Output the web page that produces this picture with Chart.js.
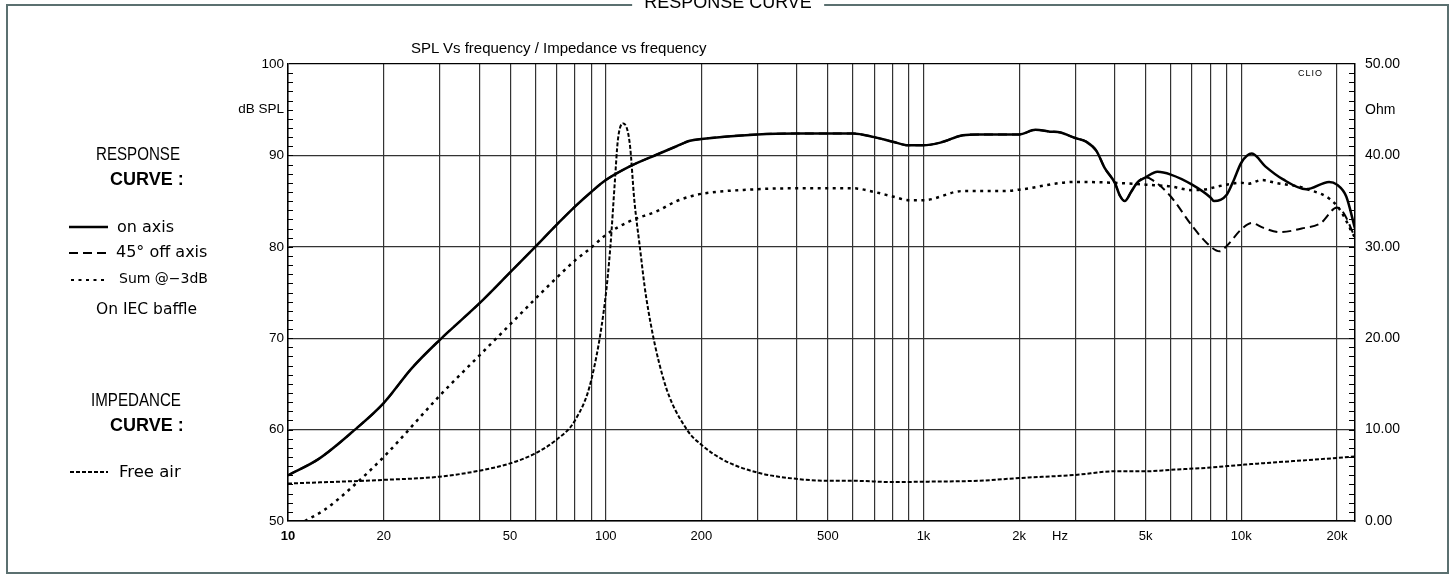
<!DOCTYPE html>
<html lang="en">
<head>
<meta charset="UTF-8">
<title>Response curve</title>
<script src="https://cdn.jsdelivr.net/npm/chart.js"></script>
<style>
    body {
        margin: 0;
        width: 1455px;
        height: 581px;
        position: relative;
        overflow: hidden;
        background: #fff;
        color: #000;
        font-family: "Liberation Sans", Arial, sans-serif;
    }
    #chart { position: absolute; left: 0; top: 0; }
    #frame {
        position: absolute;
        left: 6px; top: 4px;
        width: 1443px; height: 570px;
        box-sizing: border-box;
        border: 2px solid #5b7070;
    }
    .txt {
        position: absolute;
        white-space: nowrap;
        line-height: 1;
        transform: translateY(-50%);
    }
    .head { font-size: 18px; transform: translateY(-50%) scaleX(0.84); transform-origin: left center; }
    .bold { font-size: 18px; font-weight: bold; }
    .wide { font-family: "DejaVu Sans", sans-serif; font-size: 16px; }
    #frameTitle {
        position: absolute;
        left: 728px; top: -7px;
        transform: translateX(-50%);
        font-size: 18px;
        line-height: 18px;
        background: #fff;
        padding: 0 12px;
    }
    svg { position: absolute; left: 0; top: 0; }
</style>
</head>
<body>

<canvas id="chart" width="1455" height="581"></canvas>
<div id="frame"></div>
<div id="frameTitle">RESPONSE CURVE</div>

<div class="txt" style="left:411px; top:47px; font-size:15px;">SPL Vs frequency / Impedance vs frequency</div>
<div class="txt" style="left:1298px; top:73px; font-size:9px; letter-spacing:1px;">CLIO</div>

<div class="txt head" style="left:96px; top:154px;">RESPONSE</div>
<div class="txt bold" style="left:110px; top:179px;">CURVE :</div>
<div class="txt wide" style="left:117px; top:227px;">on axis</div>
<div class="txt wide" style="left:116px; top:252px;">45° off axis</div>
<div class="txt wide" style="left:119px; top:278px; font-size:14px;">Sum @−3dB</div>
<div class="txt wide" style="left:96px; top:310px; font-size:15.5px;">On IEC baffle</div>
<div class="txt head" style="left:91px; top:400px;">IMPEDANCE</div>
<div class="txt bold" style="left:110px; top:425px;">CURVE :</div>
<div class="txt wide" style="left:119px; top:472px; font-size:16.5px;">Free air</div>

<svg width="120" height="581">
    <line x1="69" y1="227" x2="108" y2="227" stroke="#000" stroke-width="2.5"/>
    <line x1="69" y1="253" x2="108" y2="253" stroke="#000" stroke-width="2" stroke-dasharray="9,5"/>
    <line x1="71" y1="280" x2="106" y2="280" stroke="#000" stroke-width="2" stroke-dasharray="3,4.5"/>
    <line x1="70" y1="472" x2="108" y2="472" stroke="#000" stroke-width="2" stroke-dasharray="4,2"/>
</svg>

<script>
    // SPL curves (dB), frequencies in Hz
    const onAxisFreq = [10, 12.5, 16, 20, 24.5, 30, 40, 50, 60, 70, 80, 90, 100, 119, 145, 167, 184, 200, 300, 400, 600, 700, 800, 900, 1000, 1130, 1330, 1500, 2000, 2250, 2500, 2700, 3000, 3250, 3500, 3720, 4000, 4150, 4300, 4500, 4700, 5000, 5450, 6000, 7000, 8000, 8200, 9000, 9500, 10000, 10800, 11900, 13500, 16000, 18900, 20000, 21400, 22800];
    const onAxisDb = [55.0, 56.8, 59.8, 62.9, 66.7, 69.8, 73.8, 77.2, 80.0, 82.4, 84.4, 86.0, 87.3, 88.8, 90.1, 91.0, 91.6, 91.8, 92.3, 92.4, 92.4, 92.0, 91.5, 91.1, 91.1, 91.4, 92.2, 92.3, 92.3, 92.8, 92.6, 92.5, 91.9, 91.5, 90.5, 88.6, 87.0, 85.6, 85.0, 86.0, 87.0, 87.6, 88.2, 87.9, 86.8, 85.4, 85.0, 85.7, 87.4, 89.2, 90.2, 88.8, 87.4, 86.3, 87.1, 86.8, 85.5, 82.0];

    // 45° off axis lies under the on-axis curve up to ~5 kHz
    const offAxisFreq = [10, 12.5, 16, 20, 24.5, 30, 40, 50, 60, 70, 80, 90, 100, 119, 145, 167, 184, 200, 300, 400, 600, 700, 800, 900, 1000, 1130, 1330, 1500, 2000, 2250, 2500, 2700, 3000, 3250, 3500, 3720, 4000, 4150, 4300, 4500, 4700, 5000, 5260, 6000, 7000, 7800, 8550, 9000, 10000, 10800, 11700, 13200, 15500, 17800, 20000, 21000, 22800];
    const offAxisDb = [55.0, 56.8, 59.8, 62.9, 66.7, 69.8, 73.8, 77.2, 80.0, 82.4, 84.4, 86.0, 87.3, 88.8, 90.1, 91.0, 91.6, 91.8, 92.3, 92.4, 92.4, 92.0, 91.5, 91.1, 91.1, 91.4, 92.2, 92.3, 92.3, 92.8, 92.6, 92.5, 91.9, 91.5, 90.5, 88.6, 87.0, 85.6, 85.0, 86.0, 87.0, 87.6, 87.3, 85.5, 82.3, 80.4, 79.5, 80.1, 81.9, 82.6, 82.1, 81.6, 82.0, 82.6, 84.3, 83.7, 81.0];

    const sumFreq = [11.3, 13, 15.9, 20, 30, 40, 50, 60, 70, 80, 90, 100, 119, 145, 167, 184, 200, 300, 400, 600, 700, 800, 900, 1000, 1330, 1790, 2000, 3000, 4000, 5000, 6000, 7000, 7800, 8000, 9000, 10000, 10500, 11600, 12800, 16000, 20000, 22800];
    const sumDb = [50.0, 51.2, 53.7, 57.0, 63.7, 68.1, 71.5, 74.3, 76.6, 78.5, 79.9, 81.3, 82.8, 83.9, 85.0, 85.5, 85.8, 86.3, 86.4, 86.4, 86.0, 85.5, 85.1, 85.1, 86.1, 86.1, 86.25, 87.1, 87.0, 86.8, 86.6, 86.2, 86.3, 86.4, 86.8, 87.0, 86.9, 87.3, 87.0, 86.35, 84.5, 81.0];

    // Impedance, free air (Ohm)
    const impFreq = [10, 20, 30, 40, 50, 60, 70, 80, 90, 99.6, 103.4, 106.7, 109.2, 113.5, 119, 123, 128, 134, 152, 180, 200, 234, 300, 400, 500, 600, 800, 1000, 1500, 2000, 3000, 4000, 5000, 6000, 8000, 10000, 20000, 22800];
    const impOhm = [4.1, 4.5, 4.85, 5.5, 6.3, 7.4, 8.9, 11.0, 15.4, 24.2, 30.0, 36.9, 41.7, 43.5, 41.3, 35.1, 30.0, 24.5, 15.5, 10.0, 8.35, 6.7, 5.3, 4.6, 4.4, 4.4, 4.26, 4.3, 4.41, 4.7, 5.04, 5.44, 5.44, 5.6, 5.85, 6.14, 6.9, 7.06];

    // axis ticks
    const freqTicks = [10, 20, 30, 40, 50, 60, 70, 80, 90, 100, 200, 300, 400, 500, 600, 700, 800, 900, 1000, 2000, 2690, 3000, 4000, 5000, 6000, 7000, 8000, 9000, 10000, 20000];
    const freqLabels = {10: '10', 20: '20', 50: '50', 100: '100', 200: '200', 500: '500', 1000: '1k', 2000: '2k', 2690: 'Hz', 5000: '5k', 10000: '10k', 20000: '20k'};

    const pts = (xs, ys) => xs.map((x, i) => ({x: x, y: ys[i]}));
    const sans = '"Liberation Sans", Arial, sans-serif';
    const gridCol = '#333';

    // small inward tick marks on both vertical axes
    const minorTicks = {
        id: 'minorTicks',
        afterDraw(chart) {
            const {ctx, chartArea: a, scales} = chart;
            ctx.save();
            ctx.strokeStyle = '#000';
            ctx.lineWidth = 1;
            ctx.beginPath();
            for (let v = 51; v < 100; v++) {
                const y = Math.round(scales.y.getPixelForValue(v)) + 0.5;
                ctx.moveTo(a.left, y);
                ctx.lineTo(a.left + 5, y);
            }
            for (let v = 1; v < 50; v++) {
                const y = Math.round(scales.y1.getPixelForValue(v)) + 0.5;
                ctx.moveTo(a.right - 6, y);
                ctx.lineTo(a.right, y);
            }
            ctx.stroke();
            ctx.restore();
        }
    };

    new Chart(document.getElementById('chart'), {
        type: 'line',
        data: {
            datasets: [
                {label: 'on axis', data: pts(onAxisFreq, onAxisDb), borderColor: '#000', borderWidth: 2.5, yAxisID: 'y'},
                {label: '45° off axis', data: pts(offAxisFreq, offAxisDb), borderColor: '#000', borderWidth: 2, borderDash: [9, 5], yAxisID: 'y'},
                {label: 'Sum @-3dB', data: pts(sumFreq, sumDb), borderColor: '#000', borderWidth: 2.5, borderDash: [3, 4.5], yAxisID: 'y'},
                {label: 'Free air', data: pts(impFreq, impOhm), borderColor: '#000', borderWidth: 2, borderDash: [4, 2], yAxisID: 'y1'}
            ]
        },
        options: {
            responsive: false,
            animation: false,
            layout: {padding: {top: 64, left: 0, right: 0, bottom: 0}},
            elements: {
                point: {radius: 0},
                line: {cubicInterpolationMode: 'monotone', fill: false}
            },
            plugins: {
                legend: {display: false},
                tooltip: {enabled: false}
            },
            scales: {
                x: {
                    type: 'logarithmic',
                    min: 10,
                    max: 22800,
                    afterBuildTicks: s => { s.ticks = freqTicks.map(v => ({value: v})); },
                    afterFit: s => { s.height = 60; },
                    border: {color: '#000', width: 1.5},
                    grid: {
                        drawTicks: false,
                        lineWidth: 1.2,
                        color: c => (c.tick && c.tick.value === 2690) ? 'rgba(0,0,0,0)' : gridCol
                    },
                    ticks: {
                        autoSkip: false,
                        maxRotation: 0,
                        padding: 8,
                        color: '#000',
                        font: c => ({family: sans, size: 13, weight: (c.tick && c.tick.value === 10) ? 'bold' : 'normal'}),
                        callback: v => freqLabels[v] || ''
                    }
                },
                y: {
                    min: 50,
                    max: 100,
                    afterFit: s => { s.width = 288; },
                    border: {color: '#000', width: 1.5},
                    grid: {
                        drawTicks: false,
                        lineWidth: 1.2,
                        color: c => c.tick.value === 100 ? '#000' : (c.tick.value % 10 === 0 ? gridCol : 'rgba(0,0,0,0)')
                    },
                    ticks: {
                        stepSize: 5,
                        maxTicksLimit: 20,
                        autoSkip: false,
                        padding: 4,
                        color: '#000',
                        font: {family: sans, size: 13.5},
                        callback: v => v % 10 === 0 ? String(v) : (v === 95 ? 'dB SPL' : '')
                    }
                },
                y1: {
                    position: 'right',
                    min: 0,
                    max: 50,
                    afterFit: s => { s.width = 100; },
                    border: {color: '#000', width: 1.5},
                    grid: {drawOnChartArea: false, drawTicks: false},
                    ticks: {
                        stepSize: 5,
                        maxTicksLimit: 20,
                        autoSkip: false,
                        padding: 10,
                        color: '#000',
                        font: {family: sans, size: 14},
                        callback: v => v % 10 === 0 ? v.toFixed(2) : (v === 45 ? 'Ohm' : '')
                    }
                }
            }
        },
        plugins: [minorTicks]
    });
</script>

</body>
</html>
